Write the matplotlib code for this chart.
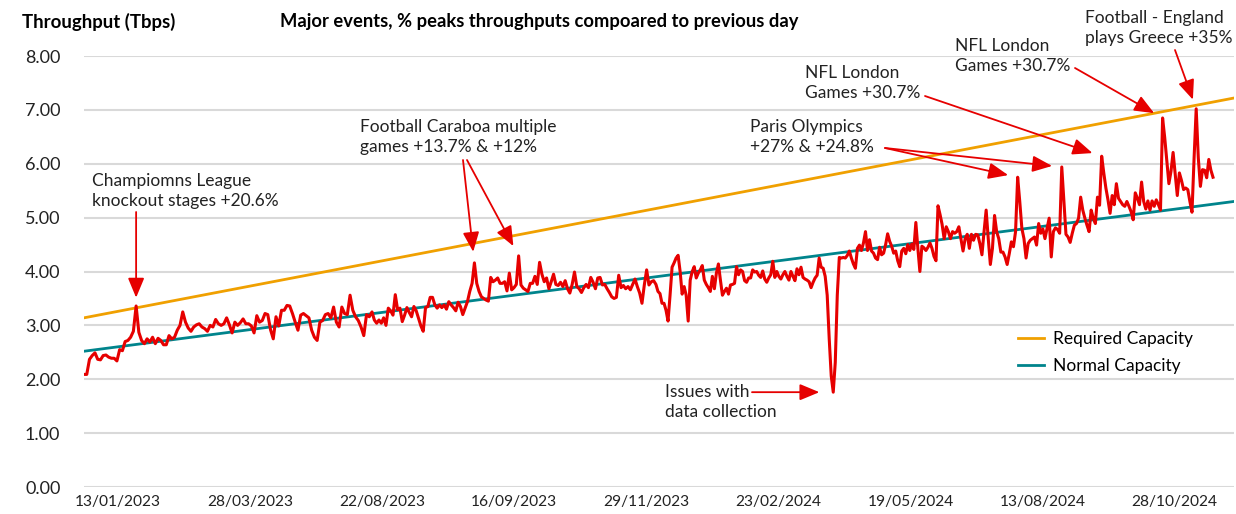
import numpy as np
import matplotlib
matplotlib.use("Agg")
import matplotlib.pyplot as plt

# daily peak throughput (Tbps) in four stretches
# (each stretch read at its own sampling rate)
throughput_a = [
    2.09, 2.09, 2.37, 2.44, 2.49, 2.37, 2.36, 2.44, 2.45, 2.41,
    2.39, 2.39, 2.34, 2.55, 2.53, 2.70, 2.72, 2.78, 2.89, 3.36,
    2.87, 2.72, 2.66, 2.75, 2.69, 2.78, 2.66, 2.76, 2.72, 2.64,
    2.64, 2.81, 2.75, 2.78, 2.91, 3.00, 3.25, 3.06, 2.95, 2.89,
    2.97, 3.01, 3.03, 2.97, 2.94, 2.89, 3.00, 2.97, 3.11, 3.03,
    3.00, 3.03, 3.14, 3.01, 2.86, 3.06, 3.00, 3.05, 3.12, 3.03,
    3.03, 2.99, 2.86, 3.18, 3.06, 3.09, 3.22, 3.20, 2.92, 2.75,
    3.16, 2.99, 3.28, 3.28, 3.37, 3.36, 3.22, 3.06, 2.91, 3.19,
    3.22, 3.18, 3.14, 2.91, 2.78, 2.72, 3.06, 3.09, 3.20, 3.22,
    3.14, 3.34, 3.06, 2.97, 3.34, 3.22, 3.20, 3.56, 3.28, 3.16,
    3.09, 2.97, 2.81, 3.20, 3.16,
]
throughput_b = [
    3.25, 3.10, 3.04, 3.10, 3.04, 3.14, 3.00, 3.32, 3.27, 3.19,
    3.57, 3.29, 3.32, 3.07, 3.19, 3.33, 3.24, 3.16, 3.35, 3.27,
    3.13, 2.99, 2.89, 3.33, 3.35, 3.52, 3.52, 3.38, 3.32, 3.38,
    3.33, 3.38, 3.30, 3.44, 3.38, 3.33, 3.27, 3.43, 3.35, 3.20,
    3.32, 3.44, 3.63, 3.78, 4.16, 3.78, 3.63, 3.53, 3.50, 3.47,
    3.45, 3.89, 3.81, 3.84, 3.88, 3.78, 3.78, 3.81, 3.64, 3.97,
    3.66, 3.70, 3.76, 4.29, 3.75, 3.69, 3.66, 3.63, 3.78, 3.78,
    3.91, 3.76, 4.17, 3.95, 3.81, 3.88, 3.68, 3.81, 3.95, 3.76,
    3.74, 3.80, 3.72, 3.83, 3.68, 3.60, 3.76, 3.99, 3.72, 3.68,
    3.61, 3.70, 3.76, 3.70, 3.89, 3.80, 3.68, 3.88, 3.89, 3.75,
    3.76, 3.68, 3.61, 3.53, 3.50, 3.52, 3.93, 3.70, 3.74, 3.68,
    3.72, 3.66, 3.76, 3.86, 3.72, 3.60, 3.41, 3.75, 4.03, 3.75,
    3.81, 3.83,
]
throughput_c = [
    3.76, 3.63, 3.59, 3.41, 3.41, 3.28, 3.08, 3.56, 4.08, 4.16,
    4.25, 4.30, 4.00, 3.58, 3.72, 3.56, 3.08, 3.84, 4.00, 4.09,
    3.88, 3.97, 4.03, 4.11, 3.84, 3.76, 3.70, 3.63, 3.91, 3.68,
    3.97, 4.14, 3.84, 3.56, 3.63, 3.69, 3.58, 3.75, 3.76, 3.78,
    4.09, 3.94, 4.03, 4.00, 3.83, 3.80, 3.88, 3.88, 4.03, 3.99,
    4.00, 3.93, 3.89, 4.01, 3.86, 3.80, 3.88, 3.94, 4.19, 3.89,
    4.00, 3.91, 3.86, 3.94, 4.00, 3.91, 3.84, 4.00, 3.91, 3.83,
    4.05, 3.94, 4.08, 3.89, 3.86, 3.84, 3.81, 3.70, 3.80, 3.88,
    3.93, 4.25, 4.08, 4.06, 3.91, 3.56, 2.75, 2.06, 1.76, 2.31,
    3.56, 4.26, 4.25, 4.26, 4.25, 4.30, 4.38, 4.25, 4.14, 4.06,
    4.43, 4.49, 4.39, 4.53, 4.74, 4.39, 4.59, 4.38, 4.34, 4.25,
    4.22, 4.45, 4.31, 4.34, 4.50, 4.70, 4.56, 4.47, 4.34, 4.38,
    4.20, 4.09, 4.38, 4.43, 4.33, 4.50, 4.39, 4.51, 4.41, 4.91,
    4.43, 4.00, 4.47, 4.44, 4.39, 4.45, 4.53, 4.43, 4.28, 4.20,
    5.22, 5.06,
]
throughput_d = [
    4.88, 4.61, 4.83, 4.74, 4.61, 4.74, 4.71, 4.74, 4.83, 4.61,
    4.38, 4.61, 4.69, 4.43, 4.69, 4.58, 4.69, 4.68, 4.52, 4.31,
    4.74, 5.14, 4.61, 4.13, 4.43, 5.04, 4.74, 4.61, 4.36, 4.36,
    4.27, 4.13, 4.33, 4.55, 4.46, 4.74, 5.75, 5.30, 4.80, 4.61,
    4.25, 4.52, 4.58, 4.61, 4.64, 4.49, 4.89, 4.71, 4.79, 4.61,
    4.80, 4.99, 4.27, 4.74, 4.81, 4.78, 4.71, 5.94, 5.30, 4.69,
    4.64, 4.54, 4.71, 4.86, 4.89, 4.99, 5.38, 5.14, 4.99, 4.86,
    4.74, 5.14, 4.99, 4.89, 5.38, 5.23, 6.14, 5.83, 5.55, 5.33,
    5.08, 5.41, 5.24, 5.63, 5.36, 5.30, 5.24, 5.21, 5.30, 5.21,
    5.11, 4.96, 5.46, 5.36, 5.24, 5.66, 5.30, 5.16, 5.31, 5.14,
    5.31, 5.21, 5.33, 5.24, 5.14, 6.85, 6.49, 6.05, 5.63, 5.86,
    6.21, 5.80, 5.41, 5.83, 5.69, 5.52, 5.55, 5.52, 5.30, 5.10,
    6.11, 7.02, 6.11, 5.58, 5.89, 5.88, 5.74, 6.08, 5.88, 5.75,
]

# capacity trend lines, value at start / end of the axis
required_capacity = [3.14, 7.22]
normal_capacity = [2.52, 5.30]

date_labels = ["13/01/2023", "28/03/2023", "22/08/2023", "16/09/2023", "29/11/2023",
               "23/02/2024", "19/05/2024", "13/08/2024", "28/10/2024"]

RED = "#e60000"
ORANGE = "#f0a000"
TEAL = "#00848c"
GRID = "#d9d9d9"
INK = "#222222"
FS = 12.5

plt.rcParams["font.family"] = ["Lato", "DejaVu Sans"]

W, H = 1236, 514


def fx(px):
    return px / W


def fy(py):
    return 1 - py / H


# where each stretch sits along the time axis (fraction of the plotted span)
bounds = [0.0, 0.2551, 0.5066, 0.7600, 1.0]
parts = [throughput_a, throughput_b, throughput_c, throughput_d]
xs = []
for k, part in enumerate(parts):
    last = k == len(parts) - 1
    xs.append(np.linspace(bounds[k], bounds[k + 1], len(part), endpoint=last))
x = np.concatenate(xs)
y = np.concatenate([np.array(p) for p in parts])
xmax = (1234 - 84) / (1213 - 84)

fig = plt.figure(figsize=(W / 100, H / 100), dpi=100)
ax = fig.add_axes([fx(84), fy(487), fx(1234) - fx(84), fy(56) - fy(487)])

ax.plot(x, y, color=RED, lw=2.2, zorder=4)
ax.plot([0, xmax], required_capacity, color=ORANGE, lw=2.0, zorder=3, label="Required Capacity")
ax.plot([0, xmax], normal_capacity, color=TEAL, lw=2.0, zorder=3, label="Normal Capacity")

ax.set_xlim(0, xmax)
ax.set_ylim(0, 8)
ax.set_yticks(np.arange(0, 9))
ax.set_yticklabels([f"{v:.2f}" for v in range(9)])
ax.set_xticks(np.linspace(0.030, 0.966, len(date_labels)))
ax.set_xticklabels(date_labels)
ax.tick_params(axis="both", length=0, colors=INK)
ax.tick_params(axis="y", pad=17, labelsize=13)
ax.tick_params(axis="x", pad=6, labelsize=11.2)
ax.yaxis.grid(True, color=GRID, lw=1.5)
ax.set_axisbelow(True)
for s in ax.spines.values():
    s.set_visible(False)

ax.legend(loc="upper left", bbox_to_anchor=(0.812, 0.362), frameon=False, fontsize=FS,
          handlelength=1.5, handletextpad=0.5, labelspacing=0.62, borderaxespad=0, borderpad=0)

fig.text(fx(22), fy(22), "Throughput (Tbps)", fontsize=13.4, fontweight="bold", va="center")
fig.text(fx(280), fy(22), "Major events, % peaks throughputs compoared to previous day",
         fontsize=13.2, fontweight="bold", va="center")


def peak(lo, hi):
    m = (x >= lo) & (x < hi)
    idx = np.flatnonzero(m)
    return idx[np.argmax(y[idx])]


arrow = dict(arrowstyle="-|>,head_length=0.6,head_width=0.25", color=RED, lw=1.3,
             mutation_scale=20, shrinkA=0, shrinkB=6)


def point_at(i, tail, shrink=6):
    props = dict(arrow, shrinkB=shrink)
    ax.annotate("", xy=(x[i], y[i]), xycoords="data", xytext=(fx(tail[0]), fy(tail[1])),
                textcoords="figure fraction", arrowprops=props, zorder=5)


def note(px, py, txt):
    fig.text(fx(px), fy(py), txt, fontsize=FS, va="center", ha="left", linespacing=1.25,
             color=INK)


# Champions League
note(92, 191, "Champiomns League\nknockout stages +20.6%")
i = peak(0.0, 0.1)
ax.annotate("", xy=(x[i], y[i]), xycoords="data", xytext=(x[i], fy(212)),
            textcoords=("data", "figure fraction"), arrowprops=arrow, zorder=5)

# Carabao
note(360, 137, "Football Caraboa multiple\ngames +13.7% & +12%")
point_at(peak(0.33, 0.37), (463, 160), 8)
point_at(peak(0.375, 0.41), (467, 160), 8)

# data issue
note(665, 402, "Issues with\ndata collection")
d = int(np.argmin(y))
ax.annotate("", xy=(x[d], y[d]), xycoords="data", xytext=(fx(752), y[d]),
            textcoords=("figure fraction", "data"), arrowprops=dict(arrow, shrinkB=10), zorder=5)

# Paris Olympics
note(750, 137, "Paris Olympics\n+27% & +24.8%")
point_at(peak(0.81, 0.84), (885, 148), 7)
point_at(peak(0.85, 0.88), (885, 148), 7)

# NFL London
note(805, 83, "NFL London\nGames +30.7%")
point_at(peak(0.89, 0.92), (925, 96), 7)
note(955, 56, "NFL London\nGames +30.7%")
point_at(peak(0.94, 0.97), (1075, 68), 7)

# England v Greece
note(1085, 28, "Football - England\nplays Greece +35%")
point_at(peak(0.975, 1.01), (1175, 50), 7)

fig.savefig("out.png", dpi=100)
